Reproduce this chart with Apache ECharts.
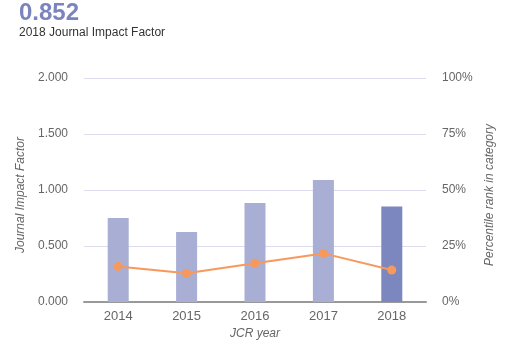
<!DOCTYPE html>
<html>
<head>
<meta charset="utf-8">
<script src="https://cdn.jsdelivr.net/npm/echarts@6/dist/echarts.min.js"></script>
<style>
  html, body { margin: 0; padding: 0; background: #fff; }
  #chart { width: 506px; height: 350px; }
</style>
</head>
<body>
<div id="chart"></div>
<script>
const years = ['2014', '2015', '2016', '2017', '2018']
const impactFactor = [0.75, 0.625, 0.884, 1.089, 0.852]
const percentileRank = [15.9, 12.8, 17.3, 21.7, 14.3]
const leftTicks = ['0.000', '0.500', '1.000', '1.500', '2.000']

const chart = echarts.init(document.getElementById('chart'))
const font = 'Liberation Sans, Arial, sans-serif'

chart.setOption({
  animation: false,
  textStyle: { fontFamily: font },
  title: {
    text: '0.852',
    subtext: '2018 Journal Impact Factor',
    left: 14,
    top: -4,
    itemGap: 2,
    textStyle: { fontSize: 24, fontWeight: 'bold', color: '#7b84bf', fontFamily: font },
    subtextStyle: { fontSize: 12, color: '#333', fontFamily: font },
  },
  grid: { left: 84, right: 80, top: 78, bottom: 48 },
  xAxis: {
    type: 'category',
    data: years,
    name: 'JCR year',
    nameLocation: 'middle',
    nameGap: 24,
    nameTextStyle: { fontStyle: 'italic', color: '#666', fontSize: 12 },
    axisLine: { lineStyle: { color: '#999', width: 2 } },
    axisTick: { alignWithLabel: true, lineStyle: { color: '#666' }, length: 5 },
    axisLabel: { color: '#666', fontSize: 13, margin: 8 },
  },
  yAxis: [
    {
      type: 'value',
      min: 0,
      max: 2,
      interval: 0.5,
      name: 'Journal Impact Factor',
      nameLocation: 'middle',
      nameGap: 52,
      nameTextStyle: { fontStyle: 'italic', color: '#666', fontSize: 12, padding: [0, 10, 0, 0] },
      axisLine: { show: false },
      axisTick: { show: false },
      axisLabel: { color: '#666', fontSize: 12, margin: 16, formatter: (v) => leftTicks[Math.round(v / 0.5)] },
      splitLine: { lineStyle: { color: '#dcdcee' } },
    },
    {
      type: 'value',
      min: 0,
      max: 100,
      interval: 25,
      name: 'Percentile rank in category',
      nameLocation: 'middle',
      nameGap: 48,
      nameRotate: 90,
      nameTextStyle: { fontStyle: 'italic', color: '#666', fontSize: 12, padding: [0, 10, 0, 0] },
      axisLine: { show: false },
      axisTick: { show: false },
      axisLabel: { color: '#666', fontSize: 12, margin: 16, formatter: '{value}%' },
      splitLine: { show: false },
    },
  ],
  series: [
    {
      type: 'bar',
      data: impactFactor.map((v, i) => ({
        value: v,
        itemStyle: { color: i === impactFactor.length - 1 ? '#7c86bf' : '#a9aed5' },
      })),
      barWidth: 21,
      yAxisIndex: 0,
    },
    {
      type: 'line',
      data: percentileRank,
      yAxisIndex: 1,
      symbol: 'circle',
      symbolSize: 9,
      lineStyle: { color: '#f7995c', width: 2 },
      itemStyle: { color: '#f7995c' },
    },
  ],
})
</script>
</body>
</html>
